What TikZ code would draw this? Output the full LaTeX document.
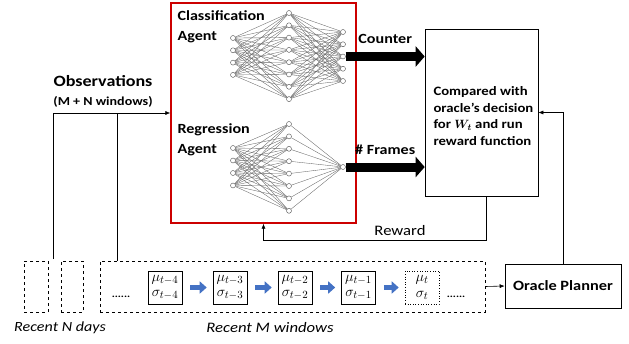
\documentclass[tikz,border=0pt]{standalone}
\usepackage{fontspec}
\setmainfont{Carlito}[FakeStretch=1.15]
\usepackage{amsmath}
\usepackage{tikz}
\usetikzlibrary{
  arrows.meta,
  calc,
  positioning,
  shapes}

\begin{document}
\begin{tikzpicture}[x=1pt,y=-1pt,
    >={Latex[length=5pt,width=4pt]},
    neuron/.style={circle,draw=black!70,fill=white,inner sep=0pt,minimum size=5pt,line width=0.4pt},
    edge/.style={draw=black!60,line width=0.35pt},
    fatarrow/.style={line width=9pt,-{Triangle[length=9pt,width=20pt]}},
    bluearrow/.style={line width=5pt,draw={rgb,255:red,68;green,114;blue,196},-{Triangle[length=7pt,width=12pt]}},
    winbox/.style={draw,line width=0.6pt,minimum width=34pt,minimum height=33pt,inner sep=0.5pt,align=center,font=\fontsize{15}{15.5}\selectfont},
    lbl/.style={font=\bfseries\fontsize{14}{20}\selectfont,align=left}]
        \useasboundingbox (0,0) rectangle (629,343);
        % agent box and the two nets
        \node (agents) [draw=red!80!black,line width=1.2pt,minimum width=185pt,minimum height=220pt,inner sep=0pt] at (263.5,113) {};
        \node (clslbl) [lbl,anchor=west] at (174,27) {Classification\\Agent};
        \node (reglbl) [lbl,anchor=west] at (174,140) {Regression\\Agent};
        \foreach \i in {1,...,4} \node[neuron] (ci\i) at (233,{38+12.3*(\i-1)}) {};
        \foreach \j in {1,...,8} \node[neuron] (ch\j) at (289,{13+12.3*(\j-1)}) {};
        \foreach \k in {1,...,5} \node[neuron] (co\k) at (343,{32+12.25*(\k-1)}) {};
        \foreach \i in {1,...,4} \foreach \j in {1,...,8} \draw[edge] (ci\i) -- (ch\j);
        \foreach \j in {1,...,8} \foreach \k in {1,...,5} \draw[edge] (ch\j) -- (co\k);
        \foreach \i in {1,...,4} \node[neuron] (ri\i) at (233,{148+12.5*(\i-1)}) {};
        \foreach \j in {1,...,8} \node[neuron] (rh\j) at (289,{124+12.4*(\j-1)}) {};
        \node[neuron] (ro) at (343,167) {};
        \foreach \i in {1,...,4} \foreach \j in {1,...,8} \draw[edge] (ri\i) -- (rh\j);
        \foreach \j in {1,...,8} \draw[edge] (rh\j) -- (ro);
        % reward box and oracle
        \node (cmp) [draw,line width=0.6pt,minimum width=113pt,minimum height=167pt] at (481.5,112.5) {};
        \node (cmptxt) [lbl,anchor=west,font=\bfseries\fontsize{12.8}{16.7}\selectfont] at (430,116) {Compared with\\oracle's decision\\for $\boldsymbol{W_t}$ and run\\reward function};
        \node (oracle) [draw,line width=0.6pt,minimum width=116pt,minimum height=44pt,font=\bfseries\fontsize{14.2}{16}\selectfont] at (563,286) {Oracle Planner};
        \draw[fatarrow] (co3.east) -- (co3 -| cmp.west) node (cnt) [midway,above=5pt,font=\bfseries\fontsize{14}{16}\selectfont] {Counter};
        \draw[fatarrow] (ro.east) -- (ro -| cmp.west) node (frm) [midway,above=5pt,font=\bfseries\fontsize{14}{16}\selectfont] {\# Frames};
        \coordinate (rwd) at (486,240);
        \draw[->,line width=0.6pt] (cmp.south -| rwd) -- (rwd) -| (agents.south);
        \node (rwdlbl) [font=\fontsize{14.5}{16}\selectfont] at (400,231) {Reward};
        \draw[->,line width=0.6pt] (oracle.north) |- (cmp.east);
        % observation windows
        \node (nwin1) [draw,dashed,line width=0.7pt,minimum width=24pt,minimum height=51pt] at (36,286.5) {};
        \node (nwin2) [draw,dashed,line width=0.7pt,minimum width=22pt,minimum height=51pt] at (72,286.5) {};
        \node (mwin) [draw,dashed,line width=0.7pt,minimum width=385pt,minimum height=51pt] at (292.5,286.5) {};
        \foreach \n/\x/\s in {1/165/4,2/230/3,3/295/2,4/358.5/1}
            \node[winbox] (w\n) at (\x,287.5) {$\mu_{t-\s}$\\$\sigma_{t-\s}$};
        \node[winbox,dotted] (w5) at (422,287.5) {$\mu_{t}$\\$\sigma_{t}$};
        \foreach \a/\b in {1/2,2/3,3/4,4/5}
            \draw[bluearrow,shorten <=8pt,shorten >=6pt] (w\a) -- (w\b);
        \node (dots1) [font=\bfseries] at (121,297) {......};
        \node (dots2) [font=\bfseries] at (456,297) {......};
        \draw[->,line width=0.6pt] (mwin.east) -- (oracle.west);
        \coordinate (ntop) at (53,259);
        \coordinate (mjoin) at (117,113);
        \draw[->,line width=0.6pt] (ntop) |- (agents.west);
        \draw[line width=0.6pt] (mwin.north -| mjoin) -- (mjoin);
        \node (obs) [font=\bfseries\fontsize{15.7}{18}\selectfont] at (103,81) {Observations};
        \node (obssub) [font=\bfseries\fontsize{12.2}{14}\selectfont] at (103,102) {(M + N windows)};
        \node (ndays) [font=\itshape\fontsize{14}{16}\selectfont] at (60,328) {Recent N days};
        \node (mwins) [font=\itshape\fontsize{14.5}{16}\selectfont] at (270,328) {Recent M windows};
    \end{tikzpicture}
\end{document}
